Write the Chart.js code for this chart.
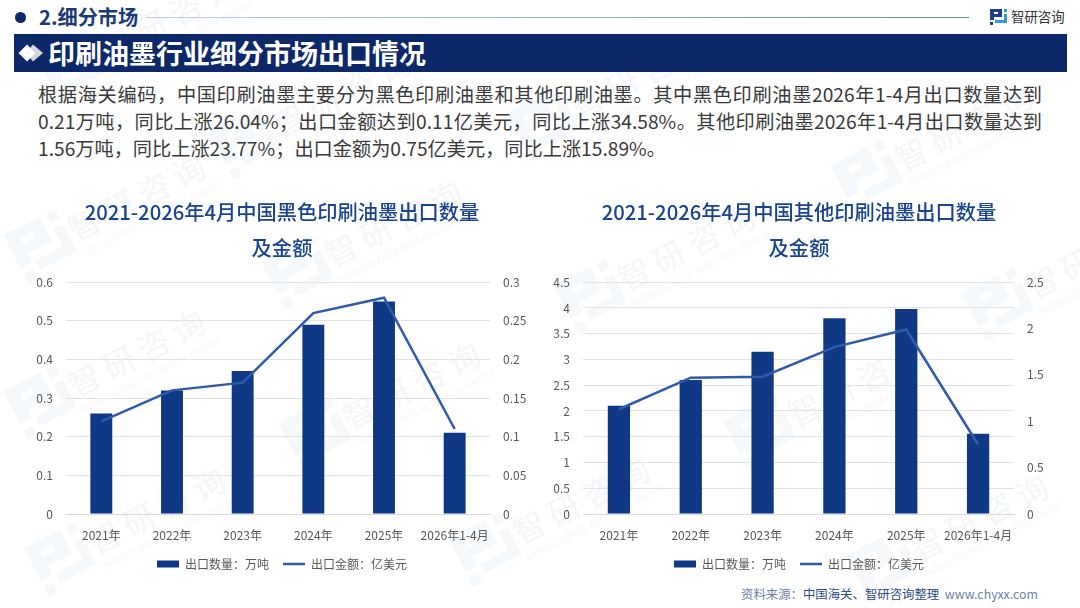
<!DOCTYPE html>
<html lang="zh-CN">
<head>
<meta charset="utf-8">
<title>印刷油墨行业细分市场出口情况</title>
<script src="https://cdn.jsdelivr.net/npm/chart.js@4/dist/chart.umd.min.js"></script>
<style>
  html, body { margin: 0; padding: 0; background: #fff; }
  body { width: 1080px; height: 608px; position: relative; overflow: hidden; font-family: "Noto Sans CJK SC", "Noto Sans", sans-serif; }
  .abs { position: absolute; white-space: nowrap; }
  #watermark { position: absolute; left: 0; top: 0; }
  .section { left: 39px; top: 3px; font-size: 20.2px; line-height: 28px; font-weight: 700; color: #1b3a78; }
  .dot { left: 15px; top: 12px; width: 11px; height: 11px; border-radius: 50%; background: #0c2869; }
  .rule { left: 146px; top: 17px; width: 823px; height: 1px; background: linear-gradient(90deg, #c5cede, #6f86b5); }
  .banner { left: 14px; top: 34px; width: 1053px; height: 38px; background: #0c2869; }
  .banner-text { left: 48px; top: 34px; font-size: 27px; line-height: 37px; font-weight: 700; color: #fff; }
  .brand { left: 1011px; top: 6px; font-size: 13.4px; line-height: 20px; color: #333; }
  .para { left: 38px; width: 1004px; font-size: 19.2px; line-height: 27px; color: #3a3a3a; white-space: normal; }
  .para.fit { text-align: justify; text-align-last: justify; }
  .source { left: 741px; top: 585px; font-size: 12.4px; line-height: 18px; color: #6e7fa6; }
  .source b { font-weight: 400; color: #2c4a86; }
  canvas { position: absolute; }
</style>
</head>
<body>
<svg id="watermark" width="1080" height="608" xmlns="http://www.w3.org/2000/svg">
  <defs>
    <g id="mark">
      <path d="M0 0H12V8H4V11H0ZM4 3V5H8V3ZM0 13H3V16H0Z"/>
      <path d="M14 0H17V3H14ZM14 5H17V14H5V11H14Z"/>
    </g>
  </defs>
</svg>

<div class="abs dot"></div>
<div class="abs section">2.细分市场</div>
<div class="abs rule"></div>
<svg class="abs" style="left:990px;top:9px" width="17" height="17" viewBox="0 0 17 17">
  <path fill="#1a3f8f" d="M0 0H12V8H4V11H0ZM4 3V5H8V3ZM0 13H3V16H0Z"/>
  <path fill="#2f9be0" d="M14 0H17V3H14ZM14 5H17V14H5V11H14Z"/>
</svg>
<div class="abs brand">智研咨询</div>

<div class="abs banner"></div>
<svg class="abs" style="left:18px;top:44px" width="26" height="18" viewBox="0 0 26 18">
  <path fill="#d4d6dc" d="M15 0.5L25 9L15 17.5L8 9Z"/>
  <path fill="#ffffff" d="M9 0.5L17.5 9L9 17.5L0.5 9Z"/>
</svg>
<div class="abs banner-text">印刷油墨行业细分市场出口情况</div>

<div class="abs para fit" style="top:81px">根据海关编码，中国印刷油墨主要分为黑色印刷油墨和其他印刷油墨。其中黑色印刷油墨2026年1-4月出口数量达到</div>
<div class="abs para fit" style="top:108px">0.21万吨，同比上涨26.04%；出口金额达到0.11亿美元，同比上涨34.58%。其他印刷油墨2026年1-4月出口数量达到</div>
<div class="abs para" style="top:135px">1.56万吨，同比上涨23.77%；出口金额为0.75亿美元，同比上涨15.89%。</div>

<canvas id="blackChart" style="left:27px;top:190px" width="510" height="390"></canvas>
<canvas id="otherChart" style="left:539px;top:190px" width="520" height="390"></canvas>

<div class="abs source">资料来源：<b>中国海关、智研咨询整理</b>&nbsp; www.chyxx.com</div>

<script>
const categories = ["2021年", "2022年", "2023年", "2024年", "2025年", "2026年1-4月"];
const barLabel = "出口数量：万吨";
const lineLabel = "出口金额：亿美元";

const blackVolume = [0.26, 0.32, 0.37, 0.49, 0.55, 0.21];
const blackValue = [0.12, 0.16, 0.17, 0.26, 0.28, 0.11];
const blackLeftTicks = ["0", "0.1", "0.2", "0.3", "0.4", "0.5", "0.6"];
const blackRightTicks = ["0", "0.05", "0.1", "0.15", "0.2", "0.25", "0.3"];

const otherVolume = [2.1, 2.6, 3.15, 3.8, 3.98, 1.56];
const otherValue = [1.13, 1.47, 1.48, 1.8, 1.99, 0.75];
const otherLeftTicks = ["0", "0.5", "1", "1.5", "2", "2.5", "3", "3.5", "4", "4.5"];
const otherRightTicks = ["0", "0.5", "1", "1.5", "2", "2.5"];

const FONT = '"Noto Sans CJK SC", "Noto Sans", sans-serif';
const BAR_COLOR = "#0f3885";
const LINE_COLOR = "#2f5ba8";
const TEXT_COLOR = "#595959";

// faint brand stamps sitting behind everything
const stampCenters = [
  [172, 17], [345, 93], [643, 75], [967, 127], [140, 197], [397, 223], [690, 247], [1098, 255],
  [140, 353], [415, 385], [860, 383], [160, 510], [585, 500], [983, 517]
];
const svgNS = "http://www.w3.org/2000/svg";
const wm = document.getElementById("watermark");
stampCenters.forEach(function (c) {
  const g = document.createElementNS(svgNS, "g");
  g.setAttribute("transform", "translate(" + c[0] + "," + c[1] + ") rotate(-27)");
  g.innerHTML =
    '<use href="#mark" transform="translate(-139,-28) scale(3.4)" fill="#f6f9fc"/>' +
    '<text x="-78" y="11" font-size="32" letter-spacing="7" fill="#f5f6f9" font-family=\'"Noto Sans CJK SC"\'>智研咨询</text>' +
    '<text x="-78" y="28" font-size="9" letter-spacing="0.5" fill="#f6f7fa" font-family="\'Noto Sans\'">INTELLIGENCE RESEARCH GROUP</text>';
  wm.appendChild(g);
});

function buildChart(canvasId, titleLines, volume, value, opts) {
  new Chart(document.getElementById(canvasId).getContext("2d"), {
    type: "bar",
    data: {
      labels: categories,
      datasets: [
        {
          type: "bar",
          label: barLabel,
          data: volume,
          backgroundColor: BAR_COLOR,
          barPercentage: 0.31,
          categoryPercentage: 1,
          yAxisID: "y",
          order: 2
        },
        {
          type: "line",
          label: lineLabel,
          data: value,
          borderColor: LINE_COLOR,
          backgroundColor: LINE_COLOR,
          borderWidth: 2.5,
          pointRadius: 0,
          tension: 0,
          yAxisID: "y1",
          order: 1
        }
      ]
    },
    options: {
      responsive: false,
      animation: false,
      plugins: {
        title: {
          display: true,
          text: titleLines,
          color: "#1a4390",
          font: { family: FONT, size: 20.25, weight: "500", lineHeight: 1.82 },
          padding: { top: 3.5, bottom: 15 }
        },
        legend: {
          position: "bottom",
          labels: {
            color: TEXT_COLOR,
            font: { family: FONT, size: 12 },
            usePointStyle: true,
            pointStyleWidth: 22,
            boxHeight: 7,
            padding: 14,
            generateLabels: function (chart) {
              return chart.data.datasets.map(function (ds, i) {
                return {
                  text: ds.label,
                  datasetIndex: i,
                  fillStyle: ds.backgroundColor,
                  strokeStyle: i === 0 ? BAR_COLOR : LINE_COLOR,
                  lineWidth: i === 0 ? 0 : 2.5,
                  pointStyle: i === 0 ? "rect" : "line",
                  fontColor: TEXT_COLOR
                };
              });
            }
          }
        },
        tooltip: { enabled: false }
      },
      scales: {
        x: {
          grid: { display: false, drawTicks: false },
          border: { color: "#d9d9d9", width: 1 },
          ticks: {
            color: TEXT_COLOR,
            font: { family: FONT, size: 12 },
            padding: 14,
            autoSkip: false,
            maxRotation: 0,
            minRotation: 0
          },
          afterFit: function (scale) { scale.height = 30; }
        },
        y: {
          position: "left",
          min: 0,
          max: opts.leftMax,
          grid: { color: "#e2e2e2", lineWidth: 1, drawTicks: false },
          border: { display: false },
          ticks: {
            stepSize: opts.leftStep,
            color: TEXT_COLOR,
            font: { family: FONT, size: 12 },
            padding: 13,
            callback: function (v, i) { return opts.leftTicks[i]; }
          },
          afterFit: function (scale) { scale.width = opts.leftWidth; }
        },
        y1: {
          position: "right",
          min: 0,
          max: opts.rightMax,
          grid: { display: false, drawTicks: false },
          border: { display: false },
          ticks: {
            stepSize: opts.rightStep,
            color: TEXT_COLOR,
            font: { family: FONT, size: 12 },
            padding: 13,
            callback: function (v, i) { return opts.rightTicks[i]; }
          },
          afterFit: function (scale) { scale.width = opts.rightWidth; }
        }
      }
    }
  });
}

buildChart("blackChart", ["2021-2026年4月中国黑色印刷油墨出口数量", "及金额"], blackVolume, blackValue, {
  leftMax: 0.6, leftStep: 0.1, leftTicks: blackLeftTicks,
  rightMax: 0.3, rightStep: 0.05, rightTicks: blackRightTicks,
  leftWidth: 39, rightWidth: 47
});
buildChart("otherChart", ["2021-2026年4月中国其他印刷油墨出口数量", "及金额"], otherVolume, otherValue, {
  leftMax: 4.5, leftStep: 0.5, leftTicks: otherLeftTicks,
  rightMax: 2.5, rightStep: 0.5, rightTicks: otherRightTicks,
  leftWidth: 44, rightWidth: 45
});
</script>
</body>
</html>
